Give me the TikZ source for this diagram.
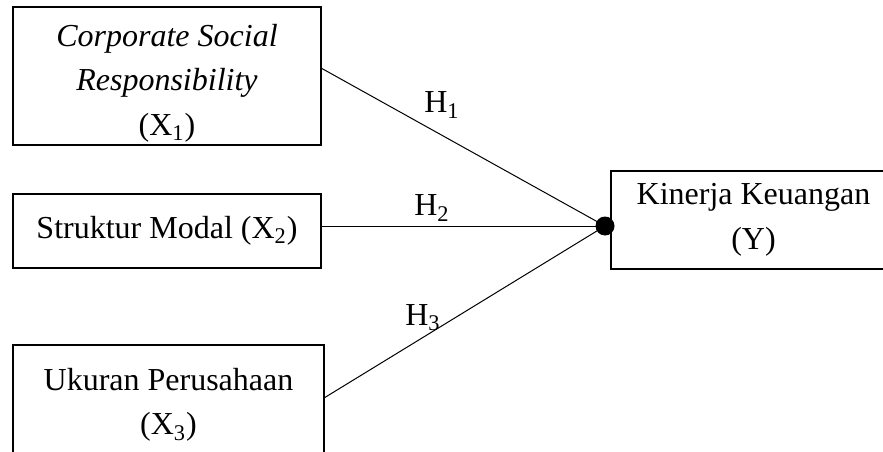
\documentclass[tikz,border=0pt]{standalone}
\usepackage{fontspec}
\setmainfont{Liberation Serif}
\tikzset{
  varbox/.style={draw, line width=0.6pt, inner sep=0pt, align=center,
    font=\fontsize{16}{22.25}\selectfont},
  vartext/.style={inner sep=0pt, align=center,
    font=\fontsize{16}{22.25}\selectfont},
  hlabel/.style={font=\fontsize{16}{19}\selectfont, inner sep=0pt},
  link/.style={line width=0.5pt}
}
\begin{document}
\begin{tikzpicture}[x=1pt,y=1pt]
\useasboundingbox (0,0) rectangle (441.5,225.5);
\node[varbox, minimum width=154pt, minimum height=69pt] (csr) at (83.5,187.5) {};
\node[vartext] (csrtext) at ([yshift=-3.5pt]csr.center)
  {\textit{Corporate Social}\\ \textit{Responsibility}\\ (X\textsubscript{1})};
\node[varbox, minimum width=154pt, minimum height=37pt] (modal) at (83.5,110)
  {Struktur Modal (X\textsubscript{2})};
\node[varbox, minimum width=155.5pt, minimum height=60pt] (ukuran) at (84.25,23)
  {Ukuran Perusahaan\\ (X\textsubscript{3})};
\node[varbox, minimum width=142.5pt, minimum height=49pt] (kinerja) at (376.75,115.5)
  {Kinerja Keuangan\\ (Y)};
\coordinate (hub) at (302.5,112.5);
\coordinate (csrout) at (160.5,191.5);
\coordinate (ukuranout) at (162,26.5);
\draw[link] (csrout) -- (hub);
\draw[link] (modal.east |- hub) -- (hub);
\draw[link] (ukuranout) -- (hub);
\fill (hub) circle (4.75pt);
\node[hlabel] (h1) at (221,173) {H\textsubscript{1}};
\node[hlabel] (h2) at (216,121.5) {H\textsubscript{2}};
\node[hlabel] (h3) at (211.5,66.5) {H\textsubscript{3}};
\end{tikzpicture}
\end{document}
